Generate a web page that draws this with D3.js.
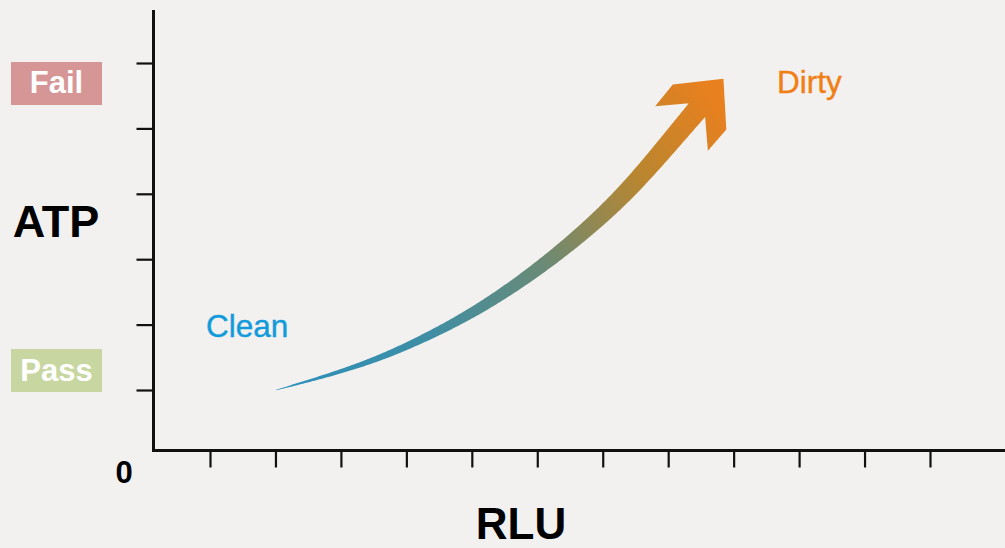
<!DOCTYPE html>
<html>
<head>
<meta charset="utf-8">
<script src="https://cdn.jsdelivr.net/npm/d3@7"></script>
<style>
  html, body { margin: 0; padding: 0; background: #f2f1ef; }
  svg { display: block; }
  text { font-family: "Liberation Sans", Arial, Helvetica, sans-serif; }
</style>
</head>
<body>
<svg id="chart" width="1005" height="548"></svg>
<script>
// ---- data ----
const xTickValues = [1, 2, 3, 4, 5, 6, 7, 8, 9, 10, 11, 12];
const yTickValues = [1, 2, 3, 4, 5, 6];
const xAxisLabel = "RLU";
const yAxisLabel = "ATP";
const originLabel = "0";
const passLabel = "Pass";
const failLabel = "Fail";
const cleanLabel = "Clean";
const dirtyLabel = "Dirty";
// trend arrow centre line (data units)
const arrowX = [2.01, 2.77, 3.54, 4.30, 5.06, 5.83, 6.59, 7.36, 8.12, 8.44];
const arrowY = [1.00, 1.21, 1.46, 1.80, 2.20, 2.71, 3.30, 4.00, 4.90, 5.28];

// ---- layout ----
const W = 1005, H = 548;
const svg = d3.select("#chart");
svg.append("rect").attr("width", W).attr("height", H).attr("fill", "#f2f1ef");

const x = d3.scaleLinear().domain([1, 12]).range([210, 930]);
const y = d3.scaleLinear().domain([1, 6]).range([390, 63]);
const x0 = 153.5, y0 = 450.5, yTop = 10, xRight = 1005;

// axes (ticks only, domain drawn separately)
const gx = svg.append("g").attr("transform", `translate(0,${y0})`)
  .call(d3.axisBottom(x).tickValues(xTickValues).tickSize(17).tickFormat(""));
gx.select(".domain").remove();
gx.selectAll(".tick line").attr("stroke", "#111").attr("stroke-width", 2.2);

const gy = svg.append("g").attr("transform", `translate(${x0},0)`)
  .call(d3.axisLeft(y).tickValues(yTickValues).tickSize(17).tickFormat(""));
gy.select(".domain").remove();
gy.selectAll(".tick line").attr("stroke", "#111").attr("stroke-width", 2.2);

svg.append("path")
  .attr("d", `M${x0},${yTop}V${y0}H${xRight}`)
  .attr("fill", "none").attr("stroke", "#111").attr("stroke-width", 3);

// labels
svg.append("text").attr("x", 56).attr("y", 237).attr("text-anchor", "middle")
  .attr("font-size", 45).attr("font-weight", "bold").attr("fill", "#000").text(yAxisLabel);
svg.append("text").attr("x", 521).attr("y", 539).attr("text-anchor", "middle")
  .attr("font-size", 44).attr("font-weight", "bold").attr("fill", "#000").text(xAxisLabel);
svg.append("text").attr("x", 124).attr("y", 483).attr("text-anchor", "middle")
  .attr("font-size", 31).attr("font-weight", "bold").attr("fill", "#000").text(originLabel);

// Fail / Pass badges
svg.append("rect").attr("x", 11).attr("y", 62).attr("width", 91).attr("height", 43).attr("fill", "#d69695");
svg.append("text").attr("x", 56.5).attr("y", 93).attr("text-anchor", "middle")
  .attr("font-size", 31).attr("font-weight", "bold").attr("fill", "#fff").text(failLabel);
svg.append("rect").attr("x", 11).attr("y", 349).attr("width", 91).attr("height", 43).attr("fill", "#c8d7a2");
svg.append("text").attr("x", 56.5).attr("y", 381).attr("text-anchor", "middle")
  .attr("font-size", 31).attr("font-weight", "bold").attr("fill", "#fff").text(passLabel);

// Clean / Dirty
svg.append("text").attr("x", 206).attr("y", 337)
  .attr("font-size", 31.5).attr("fill", "#129bdb")
  .attr("stroke", "#129bdb").attr("stroke-width", 0.4).text(cleanLabel);
svg.append("text").attr("x", 777).attr("y", 93)
  .attr("font-size", 31.5).attr("fill", "#f07f16")
  .attr("stroke", "#f07f16").attr("stroke-width", 0.4).text(dirtyLabel);

// ---- trend arrow ----
const pts = arrowX.map((d, i) => [x(d), y(arrowY[i])]);
const centre = d3.line().curve(d3.curveBasis)(pts);
const tmp = svg.append("path").attr("d", centre).attr("fill", "none").attr("stroke", "none");
const node = tmp.node();
const L = node.getTotalLength();
const N = 300;
const samples = d3.range(N + 1).map(i => {
  const p = node.getPointAtLength(L * i / N);
  return [p.x, p.y];
});
tmp.remove();

const maxHalf = 10.4;
const left = [], right = [];
samples.forEach((p, i) => {
  const a = samples[Math.max(0, i - 1)], b = samples[Math.min(N, i + 1)];
  let dx = b[0] - a[0], dy = b[1] - a[1];
  const len = Math.hypot(dx, dy) || 1; dx /= len; dy /= len;
  const nx = -dy, ny = dx;
  const t = i / N;
  const hw = maxHalf * Math.pow(t, 0.85) + 0.25;
  left.push([p[0] + nx * hw, p[1] + ny * hw]);
  right.push([p[0] - nx * hw, p[1] - ny * hw]);
});

// gradient
const defs = svg.append("defs");
const grad = defs.append("linearGradient").attr("id", "arrowGrad")
  .attr("gradientUnits", "userSpaceOnUse")
  .attr("x1", pts[0][0]).attr("y1", pts[0][1]).attr("x2", 700).attr("y2", 80);
[[0, "#2c90bc"], [0.3, "#3f8ea4"], [0.55, "#6a8a76"], [0.8, "#b9862f"], [1, "#e8801f"]]
  .forEach(([o, c]) => grad.append("stop").attr("offset", o).attr("stop-color", c));

// head in local frame at end (axis along the end tangent)
const E = samples[N];
const Pm = samples[N - 6];
let ux = E[0] - Pm[0], uy = E[1] - Pm[1];
const ul = Math.hypot(ux, uy); ux /= ul; uy /= ul;
const vx = -uy, vy = ux;
const local = (a, c) => [E[0] + ux * a + vx * c, E[1] + uy * a + vy * c];
const headLocal = [[0, 10.6], [-24, 34.5], [4, 35], [41, 0], [4, -35], [-24, -34.5], [0, -10.6]];
const head = headLocal.map(([a, c]) => local(a, c));
const dL = Math.hypot(head[0][0] - left[N][0], head[0][1] - left[N][1]);
const dR = Math.hypot(head[0][0] - right[N][0], head[0][1] - right[N][1]);
const headOrdered = dL < dR ? head : head.slice().reverse();
const outline = left.concat(headOrdered).concat(right.slice().reverse());

svg.append("path")
  .attr("d", d3.line()(outline) + "Z")
  .attr("fill", "url(#arrowGrad)");
</script>
</body>
</html>
